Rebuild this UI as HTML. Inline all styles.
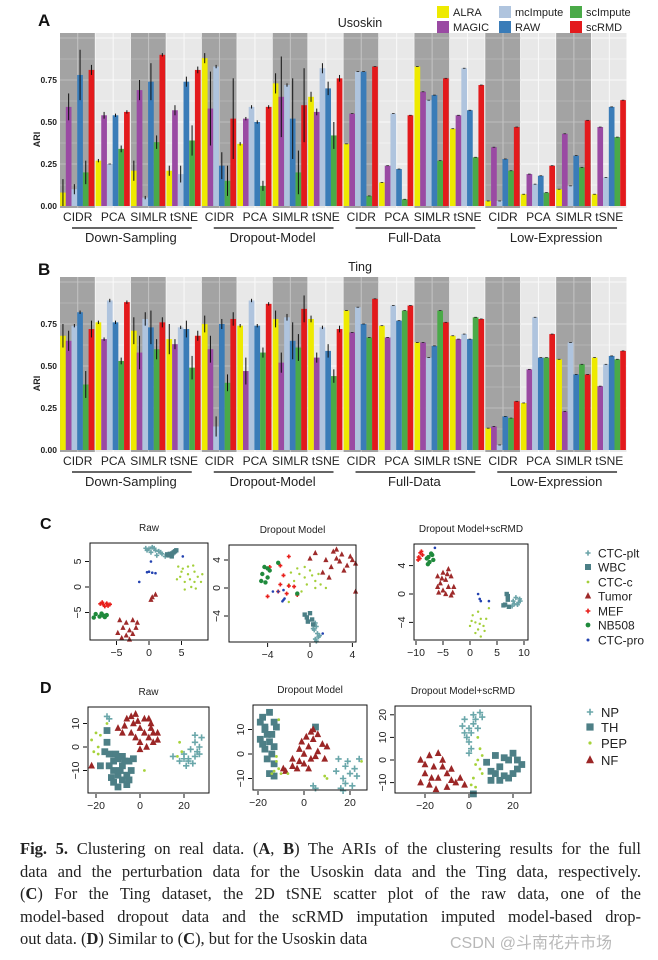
<!DOCTYPE html>
<html><head><meta charset="utf-8">
<style>
html,body{margin:0;padding:0;background:#fff;}
#wrap{position:relative;width:658px;height:960px;overflow:hidden;}
svg{position:absolute;left:0;top:0;}
#caption{position:absolute;left:20px;top:838px;width:621px;font-family:"Liberation Serif",serif;font-size:16.5px;line-height:22.5px;color:#222;}
#caption .ln{white-space:nowrap;text-align:justify;text-align-last:justify;}
#caption .last{text-align-last:left;}
#wm{position:absolute;left:450px;top:929px;font-family:"Liberation Sans","Noto Sans CJK SC",sans-serif;font-size:16px;color:#b8b8b8;}
</style></head><body>
<div id="wrap">
<svg id="fig" width="658" height="960" xmlns="http://www.w3.org/2000/svg" font-family="Liberation Sans, sans-serif"></svg>
<div id="caption">
<div class="ln"><b>Fig. 5.</b> Clustering on real data. (<b>A</b>, <b>B</b>) The ARIs of the clustering results for the full</div>
<div class="ln">data and the perturbation data for the Usoskin data and the Ting data, respectively.</div>
<div class="ln">(<b>C</b>) For the Ting dataset, the 2D tSNE scatter plot of the raw data, one of the</div>
<div class="ln">model-based dropout data and the scRMD imputation imputed model-based drop-</div>
<div class="ln last">out data. (<b>D</b>) Similar to (<b>C</b>), but for the Usoskin data</div>
</div>
<div id="wm">CSDN @斗南花卉市场</div>
</div>
<script>
// ---------- Bar chart data ----------
const methods = ["ALRA","MAGIC","mcImpute","RAW","scImpute","scRMD"];
const algos = ["CIDR","PCA","SIMLR","tSNE"];
const groups = ["Down-Sampling","Dropout-Model","Full-Data","Low-Expression"];
const yTicks = [0,0.25,0.5,0.75];
const yTickLabels = ["0.00","0.25","0.50","0.75"];
// Usoskin (panel A): 16 panels x 6 methods
const usoskinARI = [
 [0.08,0.59,0.10,0.78,0.20,0.81],[0.27,0.54,0.25,0.54,0.34,0.56],[0.21,0.69,0.05,0.74,0.38,0.90],[0.21,0.57,0.19,0.74,0.39,0.81],
 [0.88,0.58,0.83,0.24,0.15,0.52],[0.37,0.52,0.59,0.50,0.12,0.59],[0.73,0.65,0.72,0.52,0.20,0.60],[0.65,0.56,0.82,0.70,0.42,0.76],
 [0.37,0.55,0.80,0.80,0.06,0.83],[0.14,0.24,0.55,0.22,0.04,0.54],[0.83,0.68,0.63,0.66,0.27,0.76],[0.46,0.54,0.82,0.57,0.29,0.72],
 [0.03,0.35,0.03,0.28,0.21,0.47],[0.07,0.19,0.13,0.18,0.08,0.24],[0.10,0.43,0.12,0.30,0.23,0.51],[0.07,0.47,0.17,0.59,0.41,0.63]];
const usoskinErr = [
 [0.08,0.08,0.03,0.15,0.07,0.03],[0.01,0.02,0,0.01,0.02,0.01],[0.06,0.06,0.01,0.11,0.04,0.01],[0.03,0.03,0.05,0.03,0.09,0.02],
 [0.03,0.22,0.01,0.08,0.09,0.24],[0.01,0.01,0.01,0.01,0.03,0.01],[0.06,0.24,0.01,0.24,0.13,0.22],[0.03,0.02,0.03,0.04,0.08,0.02],
 [0,0,0,0,0,0],[0,0,0,0,0,0],[0,0,0,0,0,0],[0,0,0,0,0,0],[0,0,0,0,0,0],[0,0,0,0,0,0],[0,0,0,0,0,0],[0,0,0,0,0,0]];
// Ting (panel B)
const tingARI = [
 [0.68,0.65,0.74,0.82,0.39,0.72],[0.76,0.66,0.89,0.76,0.53,0.88],[0.71,0.58,0.78,0.73,0.60,0.76],[0.66,0.63,0.73,0.72,0.49,0.68],
 [0.75,0.60,0.14,0.75,0.40,0.78],[0.74,0.47,0.89,0.74,0.58,0.87],[0.78,0.52,0.79,0.65,0.61,0.84],[0.78,0.55,0.73,0.59,0.44,0.72],
 [0.83,0.70,0.85,0.75,0.67,0.90],[0.74,0.67,0.86,0.77,0.83,0.86],[0.64,0.64,0.55,0.62,0.83,0.76],[0.68,0.66,0.69,0.66,0.79,0.78],
 [0.13,0.14,0.03,0.20,0.19,0.29],[0.28,0.48,0.79,0.55,0.55,0.69],[0.54,0.23,0.64,0.45,0.51,0.45],[0.55,0.38,0.51,0.56,0.54,0.59]];
const tingErr = [
 [0.07,0.06,0.01,0.01,0.08,0.05],[0.01,0.01,0.01,0.01,0.02,0.01],[0.08,0.10,0.04,0.10,0.06,0.03],[0.09,0.03,0.01,0.05,0.07,0.03],
 [0.05,0.08,0.06,0.03,0.05,0.04],[0.01,0.08,0.01,0.01,0.03,0.01],[0.05,0.06,0.02,0.11,0.08,0.08],[0.02,0.03,0.01,0.04,0.04,0.02],
 [0,0,0,0,0,0],[0,0,0,0,0,0],[0,0,0,0,0,0],[0,0,0,0,0,0],[0,0,0,0,0,0],[0,0,0,0,0,0],[0,0,0,0,0,0],[0,0,0,0,0,0]];

// ---------- Scatter data (tSNE coordinates) ----------
const tingTypes = ["CTC-plt","WBC","CTC-c","Tumor","MEF","NB508","CTC-pro"];
const cRaw_plt=[[0,7.5],[0.5,7.8],[1,7.2],[1.5,7],[0.3,6.8],[-0.3,7.2],[2,6.5],[1.2,6.2],[0.8,7.6],[1.8,6.8],[-0.5,7.6],[2.5,6]];
const cRaw_wbc=[[3.2,6.5],[3.8,6.8],[3.5,6],[4,7],[3,6.2],[4.2,7.2],[3.6,6.6],[2.8,6.4]];
const cRaw_ctcc=[[4.5,4],[5,3],[6,4],[7,3],[7.5,2],[5.5,1],[6.5,0],[8,1],[4.8,2],[6,2.5],[7,1],[5.5,-0.5],[7.2,-0.3],[8.2,2.5],[6.8,4.2],[5.2,3.6],[4.3,1.5],[6.3,1.5]];
const cRaw_tumor=[[-4.5,-6.5],[-3.5,-7],[-2.5,-6.5],[-1.8,-7],[-4,-8],[-3,-8.5],[-2,-8],[-4.8,-9],[-3.5,-9.5],[-2.5,-9.2],[-4.2,-10],[-3,-10.3],[0.5,-2],[1,-1.5],[0.3,-2.5]];
const cRaw_mef=[[-7.5,-3.3],[-7,-3.5],[-6.5,-3.2],[-6,-3.4],[-7.2,-3],[-6.3,-3.7],[-6.8,-3.8]];
const cRaw_nb=[[-8.2,-5.3],[-7.3,-5.2],[-7,-5.6],[-6.5,-5.5],[-7.6,-5.8],[-8.5,-6],[-6.8,-5.9]];
const cRaw_pro=[[-1.5,1],[0,3],[0.5,2.8],[1,2.7],[0.3,5],[5.2,6],[-0.3,2.9]];

const cDrop_plt=[[0.5,-5],[0.6,-5.5],[0.4,-6],[0.7,-6.5],[0.8,-7],[0.5,-7.3],[0.9,-6.8],[0.6,-7.6],[0.3,-5.8]];
const cDrop_wbc=[[-0.5,-3.8],[-0.3,-4.2],[0,-3.6],[0.2,-4.5],[-0.2,-4.8],[0.3,-5.2]];
const cDrop_ctcc=[[-1,2],[-0.5,1.5],[0,2.5],[0.5,1],[-1.5,1],[-0.3,0.5],[0.8,2],[-1.2,2.8],[1,0.5],[-2,0.5],[0.2,1.8],[-0.8,-0.5],[1.5,0],[-0.5,3],[0.5,0],[-1.8,2.2],[-2,-2]];
const cDrop_tumor=[[0.5,5],[1.5,4],[2.2,5.2],[2.5,4.2],[3,4.8],[2,3],[3.5,3.2],[4,4],[4.3,3.5],[3.2,2.5],[1.2,2.2],[2.8,3.8],[1.8,1.5],[4.3,-0.5],[0,4.2],[3.8,4.5],[2.5,5.5]];
const cDrop_mef=[[-3.8,3],[-2.8,3.2],[-2,4.5],[-2.5,1.8],[-2.8,0.5],[-2,0.3],[-1.5,0.2],[-3,-0.5],[-4,-1.2],[-2.2,-0.8],[-1.2,-1]];
const cDrop_nb=[[-4.3,3],[-4,2.8],[-4.5,2],[-4.6,1],[-4.2,0.8],[-4,1.5],[-3,3.6],[-1.2,-0.8],[-3.8,2.5]];
const cDrop_pro=[[-3.5,-0.5],[-3,-0.5],[-2.5,-0.3],[-2.5,-1.7],[-2.6,-1.9],[-2.4,-1.5],[1.2,-6.5]];

const cImp_plt=[[8,-1],[8.5,-0.5],[9,-1.2],[9.2,-0.7],[8.8,-1.5],[8.2,-1.4],[9.3,-1],[7.8,-1.7]];
const cImp_wbc=[[6.8,0],[7,-0.8],[6.5,-1.5],[7.2,-1.8],[6.2,-1.6],[7,-0.3]];
const cImp_ctcc=[[0.5,-3],[1.5,-2.5],[2,-3.5],[1,-4],[2.5,-4.5],[1.5,-5],[0,-4.5],[3,-3.5],[2,-6],[1,-5.5],[3.5,-2],[0.3,-3.8],[2.7,-5.2],[1.8,-4.2]];
const cImp_tumor=[[-6,2.5],[-5,3],[-4,3.5],[-3.5,2.5],[-4.5,2],[-5.5,1.5],[-4,1],[-3,1],[-5,0.5],[-6,1],[-4.5,0],[-3.2,0.2],[-5.8,0.2],[-4.2,2.8],[-3.5,-0.2],[-5.2,2.2]];
const cImp_mef=[[-9.5,5.2],[-9.2,5.8],[-9,6],[-9.6,4.8],[-8.8,5.5],[-9.3,5]];
const cImp_nb=[[-8,5],[-7.5,4.5],[-7,5.5],[-7.8,4.2],[-6.8,4.8],[-7.2,5.7],[-7.7,5.2]];
const cImp_pro=[[1.5,0],[1.8,-0.7],[2,-1],[3.5,-1],[-6.5,6.5]];

const usoTypes = ["NP","TH","PEP","NF"];
const dRaw_np=[[20,-3],[22,-5],[25,-4],[27,0],[25,2],[28,4],[23,-1],[20,-5],[18,-6],[24,-7],[26,-2],[22,-6],[27,-3],[-15,13],[-14,12],[25,5],[15,-4],[21,-8]];
const dRaw_th=[[-15,7],[-15,2],[-14,-3],[-12,-6],[-10,-5],[-8,-4],[-5,-6],[-12,-10],[-10,-12],[-8,-14],[-6,-12],[-4,-10],[-10,-17],[-8,-8],[-13,-13],[-6,-16],[-14,-8],[-3,-5],[-16,-2],[-11,-3],[-5,-14],[-18,-8],[-9,-10],[-7,-6],[-12,-15]];
const dRaw_nf=[[-10,8],[-6,12],[-2,14],[2,12],[5,10],[8,6],[4,4],[0,2],[-4,6],[-8,6],[0,8],[3,0],[6,2],[-3,10],[0,-1],[5,8],[-7,9],[2,6],[-2,4],[-4,13],[4,12],[8,3],[-22,-8],[-1,11],[6,6]];
const dRaw_pep=[[-20,6],[-22,3],[-19,0],[-21,-2],[-19,-3],[-18,5],[18,2],[17,-4],[19,-2],[2,-10],[-15,10]];

const dDrop_th=[[-18,15],[-15,17],[-13,13],[-17,10],[-14,8],[-19,6],[-15,5],[-13,3],[-17,2],[-14,0],[-16,-2],[-13,-4],[-17,11],[-12,11],[-19,13],[-15,-8],[-13,-9],[-18,4],[-16,8],[5,11]];
const dDrop_nf=[[-8,-7],[-5,-5],[-2,-3],[0,0],[2,3],[4,6],[6,8],[3,9],[-1,5],[-3,-6],[0,-4],[3,-2],[6,1],[8,4],[-5,-2],[-2,2],[1,7],[5,-1],[9,-2],[-9,-6],[2,-6],[10,3],[4,10]];
const dDrop_np=[[15,-2],[18,-5],[20,-8],[17,-10],[21,-13],[16,-14],[19,-3],[22,-6],[23,-9],[14,-7],[18,-12],[5,-14],[4,-13],[24,-2],[17,-15]];
const dDrop_pep=[[-12,-3],[-11,-6],[-13,-7],[-12,-1],[-10,-8],[-14,-8],[10,-10],[9,-9],[25,-3],[-11,14],[-7,-8]];

const dImp_np=[[0,14],[-2,18],[2,20],[5,21],[-3,15],[1,12],[2,16],[-1,10],[0,8],[1,5],[3,18],[6,19],[-2,12],[0,3],[4,14]];
const dImp_th=[[8,-1],[10,-5],[12,2],[14,-3],[16,-7],[18,0],[20,3],[22,-4],[18,-8],[14,-9],[24,-2],[12,-6],[16,1],[20,-6],[10,-9],[2,-15],[22,0]];
const dImp_nf=[[-22,0],[-18,2],[-14,3],[-12,0],[-16,-3],[-20,-6],[-22,-10],[-18,-11],[-14,-8],[-10,-6],[-8,-9],[-6,-10],[-10,-12],[-15,-13],[-20,-2],[-4,-8],[-2,-11],[-12,-3],[-17,-8],[-8,-4]];
const dImp_pep=[[3,-2],[4,0],[5,-4],[2,-8],[6,-6],[5,5],[4,10],[3,-12],[1,-11],[6,2]];

// ---------- helpers ----------
const NS="http://www.w3.org/2000/svg";
const svg=document.getElementById('fig');
function mk(tag,attrs,parent){const e=document.createElementNS(NS,tag);for(const k in attrs)e.setAttribute(k,attrs[k]);(parent||svg).appendChild(e);return e;}
function txt(s,x,y,size,attrs,parent){const e=mk('text',Object.assign({x:x,y:y,'font-size':size,fill:'#222'},attrs||{}),parent);e.textContent=s;return e;}
const methodColors=["#eeea00","#9a4aa3","#afc4de","#3a7cb8","#4aaa48","#e31a1c"];

function barChart(name,data,err,top,y0,scale,title,letter,letterY){
  const g=mk('g',{});
  
  
  const left=60,pitch=35.44,bw=5.7;
  const yS=v=>y0-v*scale;
  const bottom=y0+2;
  for(let p=0;p<16;p++){
    const px=left+p*pitch, dark=(p%2===0);
    const bg=mk('rect',{x:px,y:top,width:pitch-0.6,height:bottom-top,fill:dark?'#a3a3a3':'#e8e8e8'},g);
    
    
    for(let t=0.125;t<1.05;t+=0.125){mk('line',{x1:px,x2:px+pitch-0.6,y1:yS(t),y2:yS(t),stroke:dark?'#b9b9b9':'#f6f6f6','stroke-width':(Math.round(t*8)%2===0)?1.2:0.8},g);}
    mk('line',{x1:px+pitch/2,x2:px+pitch/2,y1:top,y2:bottom,stroke:dark?'#c4c4c4':'#fafafa','stroke-width':1},g);
    for(let m=0;m<6;m++){
      const v=data[p][m],bx=px+0.1+m*bw;
      const r=mk('rect',{x:bx,y:yS(v),width:bw,height:v*scale,fill:methodColors[m]},g);
      
      
      const e=err[p][m];
      if(e>0){mk('line',{x1:bx+bw/2,x2:bx+bw/2,y1:yS(v+e),y2:yS(Math.max(0,v-e)),stroke:'#111','stroke-width':1},g);}
      else {mk('line',{x1:bx+1.5,x2:bx+bw-1.5,y1:yS(v),y2:yS(v),stroke:'#222','stroke-width':0.8},g);}
    }
    const lab=txt(algos[p%4],px+pitch/2,y0+15,12,{'text-anchor':'middle'},g);
    
    
  }
  for(let i=0;i<yTicks.length;i++){
    const t=txt(yTickLabels[i],57,yS(yTicks[i])+3,8.5,{'text-anchor':'end','font-weight':'bold'},g);
    
    
  }
  const yl=txt('ARI',0,0,9,{'font-weight':'bold','text-anchor':'middle',transform:`translate(40,${(top+y0)/2+20}) rotate(-90)`},g);
  
  
  for(let gi=0;gi<4;gi++){
    const gx0=left+gi*4*pitch;
    mk('line',{x1:gx0+12,x2:gx0+4*pitch-10,y1:y0+22,y2:y0+22,stroke:'#333','stroke-width':1.5},g);
    const gl=txt(groups[gi],gx0+2*pitch,y0+36,13,{'text-anchor':'middle'},g);
    
    
  }
  const tt=txt(title,360,top-6,12.5,{'text-anchor':'middle'},g);
  
  
  const pl=txt(letter,38,letterY,17,{'font-weight':'bold',fill:'#111'},g);
  
  
}
barChart('usoskin-bar-chart',usoskinARI,usoskinErr,33,206,168,'Usoskin','A',26);
barChart('ting-bar-chart',tingARI,tingErr,277,450,168,'Ting','B',275);

// legend for A
const legX=[437,499,570],legY=[6,21];
const legCol=[0,0,1,1,2,2],legRow=[0,1,0,1,0,1];
for(let i=0;i<6;i++){
  const col=legCol[i],row=legRow[i];
  const lg=mk('g',{});
  
  
  mk('rect',{x:legX[col],y:legY[row],width:12,height:12,fill:methodColors[i]},lg);
  txt(methods[i],legX[col]+16,legY[row]+10,11,{},lg);
}

// ---------- scatter ----------
function marker(g,shape,x,y,col,s){
  if(shape==='plus'){mk('path',{d:`M${x-s} ${y}H${x+s}M${x} ${y-s}V${y+s}`,stroke:col,'stroke-width':1.6},g);}
  else if(shape==='sq'){mk('rect',{x:x-s,y:y-s,width:2*s,height:2*s,fill:col},g);}
  else if(shape==='tri'){mk('path',{d:`M${x} ${y-s*1.2}L${x+s} ${y+s*0.8}L${x-s} ${y+s*0.8}Z`,fill:col},g);}
  else {mk('circle',{cx:x,cy:y,r:s,fill:col},g);}
}
function scatter(name,box,xr,yr,xt,yt,title,series){
  const g=mk('g',{});
  
  
  const [bx0,by0,bx1,by1]=box;
  const X=v=>xr[0]+(v-xr[1])*xr[2];
  const Y=v=>yr[0]-(v-yr[1])*yr[2];
  for(const s of series){
    const sg=mk('g',{},g);
    
    
    for(const p of s.pts){marker(sg,s.shape,X(p[0]),Y(p[1]),s.col,s.size);}
  }
  mk('rect',{x:bx0,y:by0,width:bx1-bx0,height:by1-by0,fill:'none',stroke:'#111','stroke-width':1},g);
  for(const t of xt){const x=X(t);mk('line',{x1:x,x2:x,y1:by1+1,y2:by1+5,stroke:'#111'},g);
    const l=txt(t<0?'\u2212'+(-t):String(t),x,by1+16,10.5,{'text-anchor':'middle'},g);
    
    }
  for(const t of yt){const y=Y(t);mk('line',{x1:bx0-5,x2:bx0-1,y1:y,y2:y,stroke:'#111'},g);
    const l=txt(t<0?'\u2212'+(-t):String(t),0,0,10.5,{'text-anchor':'middle',transform:`translate(${bx0-9},${y}) rotate(-90)`},g);
    
    }
  const tl=txt(title,(bx0+bx1)/2,by0-12,10,{'text-anchor':'middle'},g);
  
  
}
const C={plt:'#6aa3a8',wbc:'#4b7f86',ctcc:'#a4cf3a',tumor:'#9e2a2a',mef:'#e8201c',nb:'#1f8a3c',pro:'#2342b0'};
function tingSeries(a){return [
 {name:'CTC-plt',pts:a[0],shape:'plus',col:C.plt,size:2.4},
 {name:'WBC',pts:a[1],shape:'sq',col:C.wbc,size:2.2},
 {name:'CTC-c',pts:a[2],shape:'dot',col:C.ctcc,size:1.2},
 {name:'Tumor',pts:a[3],shape:'tri',col:C.tumor,size:2.6},
 {name:'MEF',pts:a[4],shape:'plus',col:C.mef,size:2},
 {name:'NB508',pts:a[5],shape:'dot',col:C.nb,size:2.2},
 {name:'CTC-pro',pts:a[6],shape:'dot',col:C.pro,size:1.3}];}
scatter('ting-raw-scatter',[90,543,208,640],[149,0,6.5],[587,0,5.1],[-5,0,5],[-5,0,5],'Raw',
  tingSeries([cRaw_plt,cRaw_wbc,cRaw_ctcc,cRaw_tumor,cRaw_mef,cRaw_nb,cRaw_pro]));
scatter('ting-dropout-scatter',[229,545,356,642],[310,0,10.6],[588,0,7],[-4,0,4],[-4,0,4],'Dropout Model',
  tingSeries([cDrop_plt,cDrop_wbc,cDrop_ctcc,cDrop_tumor,cDrop_mef,cDrop_nb,cDrop_pro]));
scatter('ting-scrmd-scatter',[414,544,528,640],[470,0,5.4],[594,0,7.1],[-10,-5,0,5,10],[-4,0,4],'Dropout Model+scRMD',
  tingSeries([cImp_plt,cImp_wbc,cImp_ctcc,cImp_tumor,cImp_mef,cImp_nb,cImp_pro]));

const U={np:'#6aa7aa',th:'#4d7f86',pep:'#a6d23a',nf:'#9b2626'};
function usoSeries(np,th,pep,nf){return [
 {name:'TH',pts:th,shape:'sq',col:U.th,size:3.4},
 {name:'NF',pts:nf,shape:'tri',col:U.nf,size:3.4},
 {name:'NP',pts:np,shape:'plus',col:U.np,size:3.2},
 {name:'PEP',pts:pep,shape:'dot',col:U.pep,size:1.4}];}
scatter('usoskin-raw-scatter',[88,707,209,793],[140,0,2.2],[747,0,2.35],[-20,0,20],[-10,0,10],'Raw',usoSeries(dRaw_np,dRaw_th,dRaw_pep,dRaw_nf));
scatter('usoskin-dropout-scatter',[253,705,367,790],[304,0,2.3],[754,0,2.45],[-20,0,20],[-10,0,10],'Dropout Model',usoSeries(dDrop_np,dDrop_th,dDrop_pep,dDrop_nf));
scatter('usoskin-scrmd-scatter',[395,706,531,793],[469,0,2.2],[760,0,2.26],[-20,0,20],[-10,0,10,20],'Dropout Model+scRMD',usoSeries(dImp_np,dImp_th,dImp_pep,dImp_nf));

// panel letters C, D
const lc=txt('C',40,529,16,{'font-weight':'bold',fill:'#111'});


const ld=txt('D',40,693,16,{'font-weight':'bold',fill:'#111'});



// scatter legends
const cLegY=[553,567,582,596,611,625,640];
const cLegStyle=[['plus',C.plt,2.6],['sq',C.wbc,3],['dot',C.ctcc,1.4],['tri',C.tumor,3.2],['plus',C.mef,2.4],['dot',C.nb,2.4],['dot',C.pro,1.5]];
for(let i=0;i<tingTypes.length;i++){
  const lg=mk('g',{});
  
  
  marker(lg,cLegStyle[i][0],588,cLegY[i],cLegStyle[i][1],cLegStyle[i][2]);
  txt(tingTypes[i],598,cLegY[i]+4.5,12,{},lg);
}
const dLegY=[712,727,743,760];
const dLegStyle=[['plus',U.np,3.2],['sq',U.th,3.6],['dot',U.pep,1.6],['tri',U.nf,4]];
for(let i=0;i<usoTypes.length;i++){
  const lg=mk('g',{});
  
  
  marker(lg,dLegStyle[i][0],590,dLegY[i],dLegStyle[i][1],dLegStyle[i][2]);
  txt(usoTypes[i],601,dLegY[i]+5,13,{},lg);
}
</script>
</body></html>
